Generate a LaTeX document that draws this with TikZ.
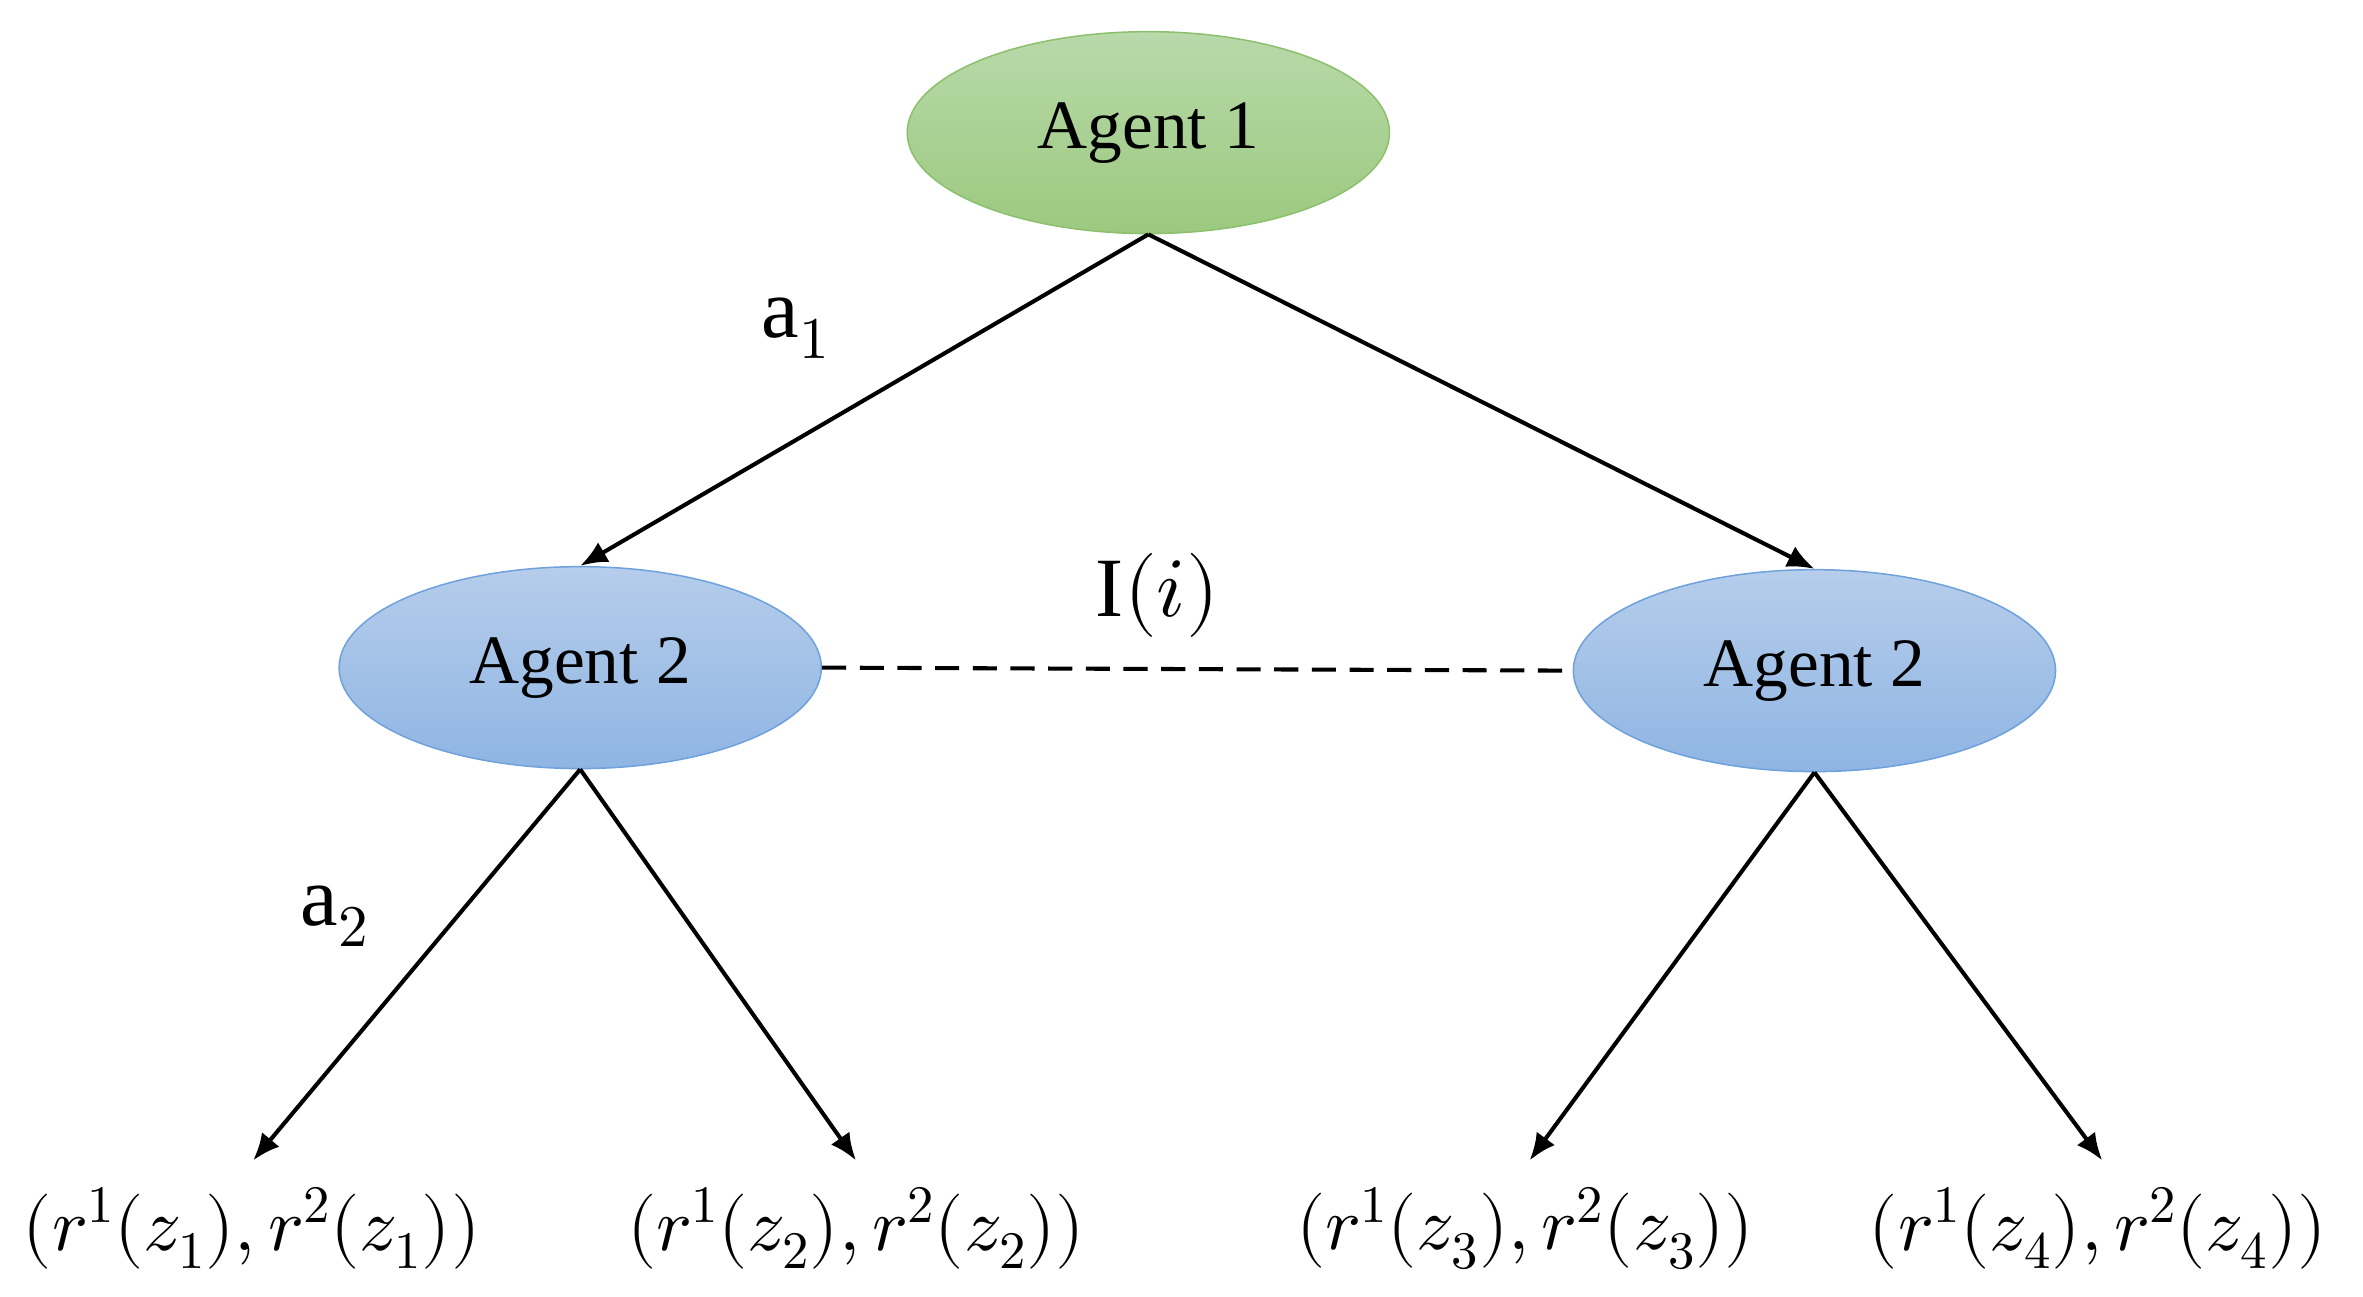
\documentclass[tikz,border=0pt]{standalone}
\usepackage{unicode-math}
\setmainfont{Liberation Serif}
\setmathfont{Latin Modern Math}
\usetikzlibrary{shapes.geometric,arrows.meta}
\definecolor{gtop}{HTML}{B8D9AA}\definecolor{gbot}{HTML}{9CC97F}\definecolor{gbd}{HTML}{8CC06C}
\definecolor{btop}{HTML}{B6CDEB}\definecolor{bbot}{HTML}{8FB5E3}\definecolor{bbd}{HTML}{6FA1DC}
\begin{document}
\begin{tikzpicture}[x=1pt,y=-1pt,
 ag/.style={ellipse,minimum width=320pt,minimum height=134pt,inner sep=0pt,line width=1pt,font=\fontsize{46}{52}\selectfont},
 green/.style={ag,draw=gbd,top color=gtop,bottom color=gbot},
 blue/.style={ag,draw=bbd,top color=btop,bottom color=bbot},
 edge/.style={line width=2.7pt,-{Latex[length=18pt,width=15pt]}},
 lab/.style={font=\fontsize{56}{62}\selectfont},
 leaf/.style={font=\fontsize{50}{56}\selectfont}]
\useasboundingbox (0,0) rectangle (1568,860);
\node[green] (a1) at (762,88) {Agent 1};
\node[blue] (l) at (385,443) {Agent 2};
\node[blue] (r) at (1204,445) {Agent 2};
\coordinate (t1) at (168,770);\coordinate (t2) at (568,770);
\coordinate (t3) at (1015,770);\coordinate (t4) at (1395,770);
\draw[edge] (a1.south) -- (l.north);
\draw[edge] (a1.south) -- (r.north);
\draw[line width=2.7pt,dash pattern=on 16pt off 9pt] (l.east) -- (r.west);
\draw[edge] (l.south) -- (t1);
\draw[edge] (l.south) -- (t2);
\draw[edge] (r.south) -- (t3);
\draw[edge] (r.south) -- (t4);
\node[lab] (la1) at (528,218) {$\mathrm{a}_1$};
\node[lab] (la2) at (222,608) {$\mathrm{a}_2$};
\node[lab] (li) at (768,395) {$\mathrm{I}(i)$};
\node[leaf] (z1) at (167,815) {$(r^1(z_1),r^2(z_1))$};
\node[leaf] (z2) at (568,815) {$(r^1(z_2),r^2(z_2))$};
\node[leaf] (z3) at (1012,815) {$(r^1(z_3),r^2(z_3))$};
\node[leaf] (z4) at (1392,815) {$(r^1(z_4),r^2(z_4))$};
\end{tikzpicture}
\end{document}
